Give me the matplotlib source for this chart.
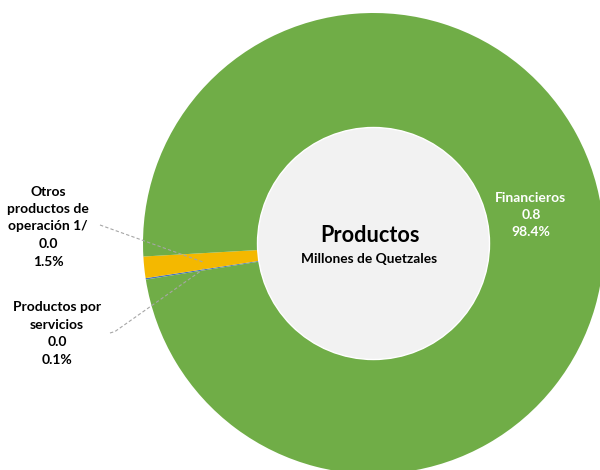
import matplotlib
matplotlib.use("Agg")
import matplotlib.pyplot as plt
from matplotlib.patches import Circle

# Data
categories = ["Productos por\nservicios", "Otros\nproductos de\noperación 1/", "Financieros"]
amounts = [0.0, 0.0, 0.8]          # millones de quetzales
shares = [0.1, 1.5, 98.4]          # percent
colors = ["#4472C4", "#F4B800", "#70AD47"]

plt.rcParams['font.family'] = ['Lato', 'DejaVu Sans']

W, H = 600, 470
fig = plt.figure(figsize=(6, 4.7), dpi=100)
ax = fig.add_axes([0, 0, 1, 1])

cx, cy = 373.5, H - 243.5
R_out, R_in = 230.5, 115.5

ax.pie(shares, colors=colors, startangle=189.0, counterclock=False,
       radius=R_out, center=(cx, cy),
       wedgeprops=dict(width=R_out - R_in, edgecolor='none', linewidth=0))
ax.add_patch(Circle((cx, cy), R_in + 0.5, facecolor="#F2F2F2", edgecolor="white", linewidth=1.0, zorder=3))

ax.set_xlim(0, W)
ax.set_ylim(0, H)
ax.set_aspect('equal')
ax.axis('off')

def lbl(i):
    return f"{categories[i]}\n{amounts[i]:.1f}\n{shares[i]:.1f}%"

fs = 10
ls = 1.55
# Financieros label (inside ring)
ax.text(531, H - 215, lbl(2), ha='center', va='center', color='white',
        fontsize=fs, fontweight='bold', linespacing=ls, zorder=5)
# Otros label
ax.text(48, H - 226.5, lbl(1), ha='center', va='center', color='black',
        fontsize=fs, fontweight='bold', linespacing=ls, zorder=5)
# Productos por servicios label
ax.text(57, H - 333.5, lbl(0), ha='center', va='center', color='black',
        fontsize=fs, fontweight='bold', linespacing=ls, zorder=5)

# leader lines
ax.plot([100, 203], [H - 225, H - 262], color='#A6A6A6', lw=0.8, ls=(0, (3, 2)), zorder=4)
ax.plot([110, 115, 205], [H - 333, H - 331.5, H - 268], color='#A6A6A6', lw=0.8, ls=(0, (3, 2)), zorder=4)

# Center text
ax.text(cx - 4, H - 235, "Productos", ha='center', va='center', fontsize=15.6,
        fontweight='bold', color='black', zorder=5)
ax.text(cx - 4, H - 259, "Millones de Quetzales", ha='center', va='center', fontsize=9.9,
        fontweight='bold', color='black', zorder=5)

fig.savefig("out.png", dpi=100, facecolor='white')
